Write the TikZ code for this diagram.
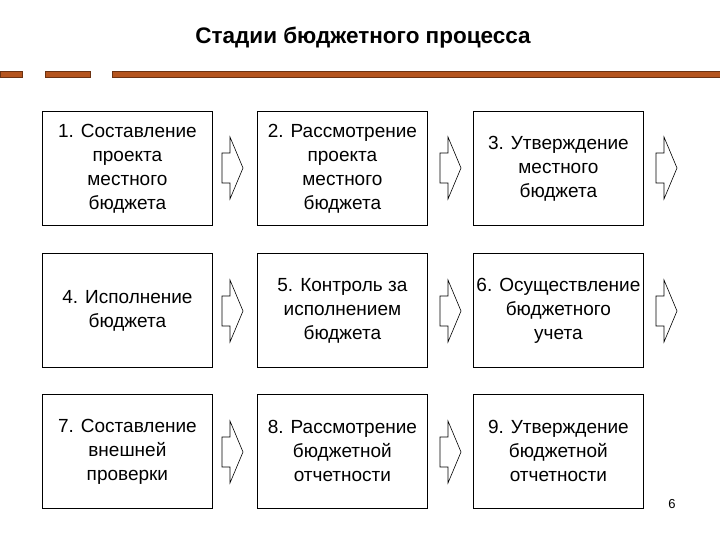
\documentclass[tikz,border=0pt]{standalone}
\usepackage{fontspec}
\setmainfont{Liberation Sans}
\definecolor{barc}{HTML}{B4541E}
\begin{document}
\begin{tikzpicture}[x=1pt,y=-1pt,
  stage/.style={draw,line width=0.8pt,minimum width=170pt,minimum height=114pt,align=center,font=\fontsize{19}{24}\selectfont,anchor=north west,inner sep=1pt},
  arr/.style={draw,line width=0.6pt},
  bar/.style={fill=barc,draw=barc!60!black,line width=0.4pt}]
\useasboundingbox (0,0) rectangle (720,540);
\node[font=\bfseries\fontsize{22.5}{26}\selectfont] (title) at (363,38) {Стадии бюджетного процесса};
\path[bar] (0,71) rectangle (22,77);
\path[bar] (45,71) rectangle (90,77);
\path[bar] (112,71) rectangle (720,77);
\node[stage] (s1) at (42,111) {1. Составление\\проекта\\местного\\бюджета};
\node[stage] (s2) at (257,111) {2. Рассмотрение\\проекта\\местного\\бюджета};
\node[stage] (s3) at (473,111) {3. Утверждение\\местного\\бюджета};
\node[stage] (s4) at (42,253) {4. Исполнение\\бюджета};
\node[stage] (s5) at (257,253) {5. Контроль за\\исполнением\\бюджета};
\node[stage] (s6) at (473,253) {6. Осуществление\\бюджетного\\учета};
\node[stage] (s7) at (42,394) {7. Составление\\внешней\\проверки};
\node[stage] (s8) at (257,394) {8. Рассмотрение\\бюджетной\\отчетности};
\node[stage] (s9) at (473,394) {9. Утверждение\\бюджетной\\отчетности};
\foreach \ax/\ay in {222/168,440/168,656/168,222/311,440/311,656/311,222/452,440/452}{
 \path[arr] (\ax,\ay) ++(0,-15) -- ++(8,0) -- ++(0,-16) -- ++(13,31) -- ++(-13,31) -- ++(0,-16) -- ++(-8,0) -- cycle;
}
\node[font=\fontsize{13}{15}\selectfont] (pg) at (672,504) {6};
\end{tikzpicture}
\end{document}
